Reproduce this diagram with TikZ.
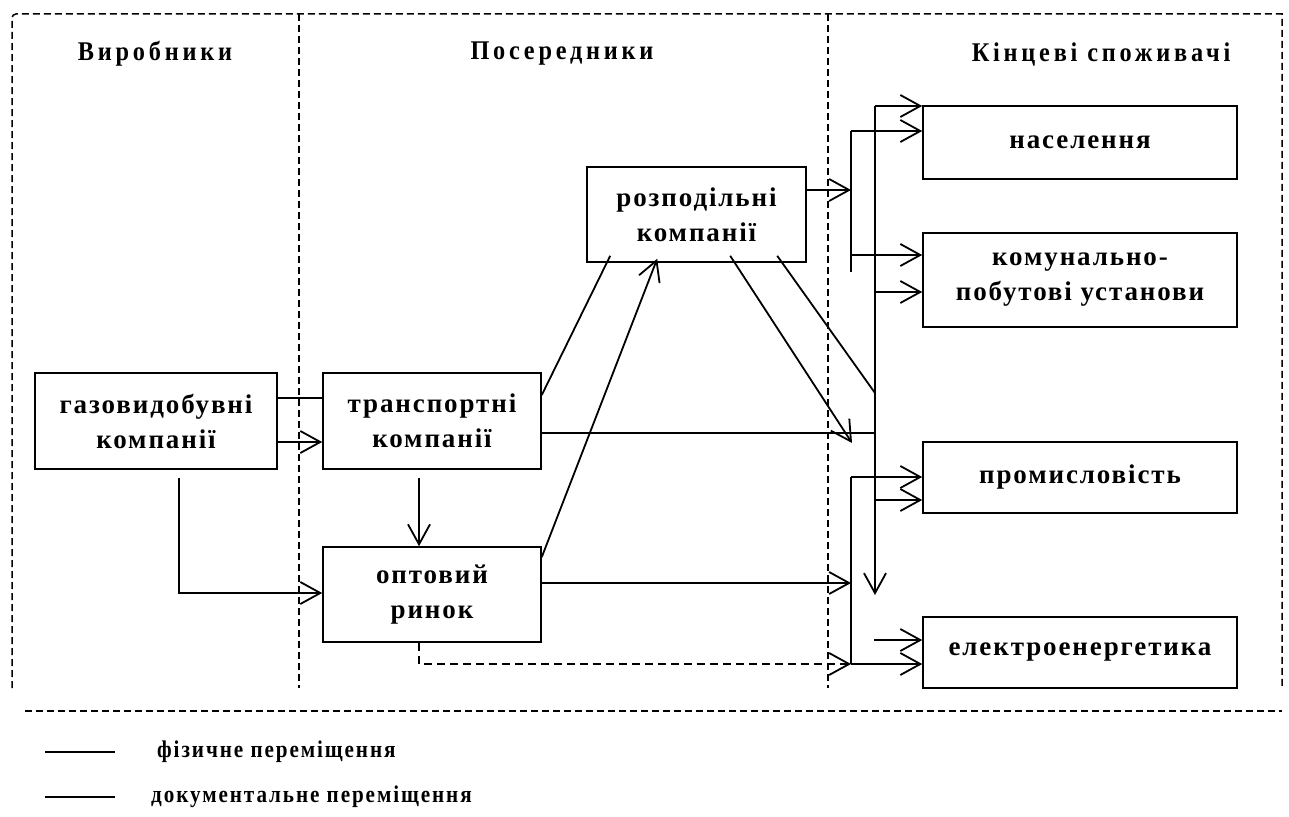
\documentclass[tikz,border=0pt]{standalone}
\usepackage{fontspec}
\setmainfont{Liberation Serif}
\newfontfamily\spfont{Liberation Serif}[LetterSpace=7]
\newfontfamily\hdfont{Liberation Serif}[LetterSpace=14,FakeStretch=0.9]
\newfontfamily\lgfont{Liberation Serif}[LetterSpace=8,FakeStretch=0.88]
\usetikzlibrary{arrows.meta,calc}
\tikzset{
  ubox/.style={draw, line width=1.6pt, align=center, inner sep=0pt,
    font=\spfont\bfseries\fontsize{27}{35}\selectfont},
  htext/.style={font=\hdfont\bfseries\fontsize{27}{30}\selectfont},
  ltext/.style={font=\lgfont\bfseries\fontsize{24}{28}\selectfont, anchor=west, inner sep=0pt},
  conn/.style={line width=1.8pt},
  arr/.style={-{Straight Barb[length=20pt,width=22pt,line width=1.8pt]}},
  frame/.style={line width=1.5pt, dash pattern=on 7pt off 4pt},
}
\begin{document}
\begin{tikzpicture}[x=1pt,y=-1pt]
\useasboundingbox (0,0) rectangle (1289,816);

% frame
\draw[frame] (12,688) -- (12,18) to[out=90,in=180] (16,14) -- (1282,14) -- (1282,688);
\draw[frame] (299,14) -- (299,688);
\draw[frame] (828,14) -- (828,688);
\draw[frame] (25,711) -- (1282,711);

% headers
\node[htext] (hv) at (155,54) {Виробники};
\node[htext] (hp) at (562,54) {Посередники};
\node[htext] (hk) at (1101,54) {Кінцеві споживачі};

% boxes
\node[ubox, minimum width=242pt, minimum height=96pt] (gaz) at (156,421) {газовидобувні\\компанії};
\node[ubox, minimum width=218pt, minimum height=96pt] (trans) at (432,421) {транспортні\\компанії};
\node[ubox, minimum width=218pt, minimum height=95pt] (opt) at (432,594.5) {оптовий\\ринок};
\node[ubox, minimum width=219pt, minimum height=95pt] (rozp) at (696.5,214.5) {розподільні\\компанії};
\node[ubox, minimum width=314pt, minimum height=73pt] (nas) at (1080,142.5) {населення};
\node[ubox, minimum width=314pt, minimum height=94pt] (kom) at (1080,280) {комунально-\\побутові установи};
\node[ubox, minimum width=314pt, minimum height=71pt] (prom) at (1080,477.5) {промисловість};
\node[ubox, minimum width=314pt, minimum height=71pt] (elek) at (1080,652.5) {електроенергетика};

% bus coordinates
\coordinate (bA1) at (851,131);
\coordinate (bA2) at (851,272);
\coordinate (bB1) at (875,106);
\coordinate (bB2) at (875,595);
\coordinate (bC1) at (851,477);
\coordinate (bC2) at (851,664);
\coordinate (t1) at (852,443);

% connectors producers -> intermediaries
\draw[conn] (gaz.east |- 0,398) -- (trans.west |- 0,398);
\draw[conn,arr] (gaz.east |- 0,442) -- (trans.west |- 0,442);
\draw[conn,arr] ($(gaz.south)+(23,8)$) |- (opt.west |- 0,593);
\draw[conn,arr] ($(trans.south)+(-13,8)$) -- ($(opt.north)+(-13,0)$);

% to distribution companies
\draw[conn] (trans.east |- 0,395) -- ($(rozp.south west)+(24,-7)$);
\draw[conn,arr] (opt.east |- 0,557) -- ($(rozp.south west)+(71,-4)$);
\draw[conn,arr] ($(rozp.south west)+(144,-7)$) -- (t1);
\draw[conn] ($(rozp.south west)+(191,-7)$) -- (bB1 |- 0,393);
\draw[conn,arr] (rozp.east |- 0,190) -- (bA1 |- 0,190);

% transport / wholesale to consumers
\draw[conn] (trans.east |- 0,433) -- (bB1 |- 0,433);
\draw[conn,arr] (opt.east |- 0,583) -- (bC1 |- 0,583);
\draw[conn,dash pattern=on 8pt off 5pt,arr] ($(opt.south)+(-13,0)$) |- (bC2);

% buses
\draw[conn] (bA1) -- (bA2);
\draw[conn,arr] (bB1) -- (bB2);
\draw[conn] (bC1) -- (bC2);

\draw[conn,arr] (bB1) -- (nas.west |- bB1);
\draw[conn,arr] (bA1) -- (nas.west |- bA1);
\draw[conn,arr] (bA1 |- 0,255) -- (kom.west |- 0,255);
\draw[conn,arr] (bB1 |- 0,292) -- (kom.west |- 0,292);
\draw[conn,arr] (bC1) -- (prom.west |- bC1);
\draw[conn,arr] (bB1 |- 0,500) -- (prom.west |- 0,500);
\draw[conn,arr] (874,640) -- (elek.west |- 0,640);
\draw[conn,arr] (bC2) -- (elek.west |- bC2);

% legend
\coordinate (l1a) at (45,752);
\coordinate (l1b) at (115,752);
\coordinate (l2a) at (45,797);
\coordinate (l2b) at (115,797);
\draw[conn] (l1a) -- (l1b);
\draw[conn] (l2a) -- (l2b);
\node[ltext] (lg1) at (157,752) {фізичне переміщення};
\node[ltext] (lg2) at (151,797) {документальне переміщення};
\end{tikzpicture}
\end{document}
